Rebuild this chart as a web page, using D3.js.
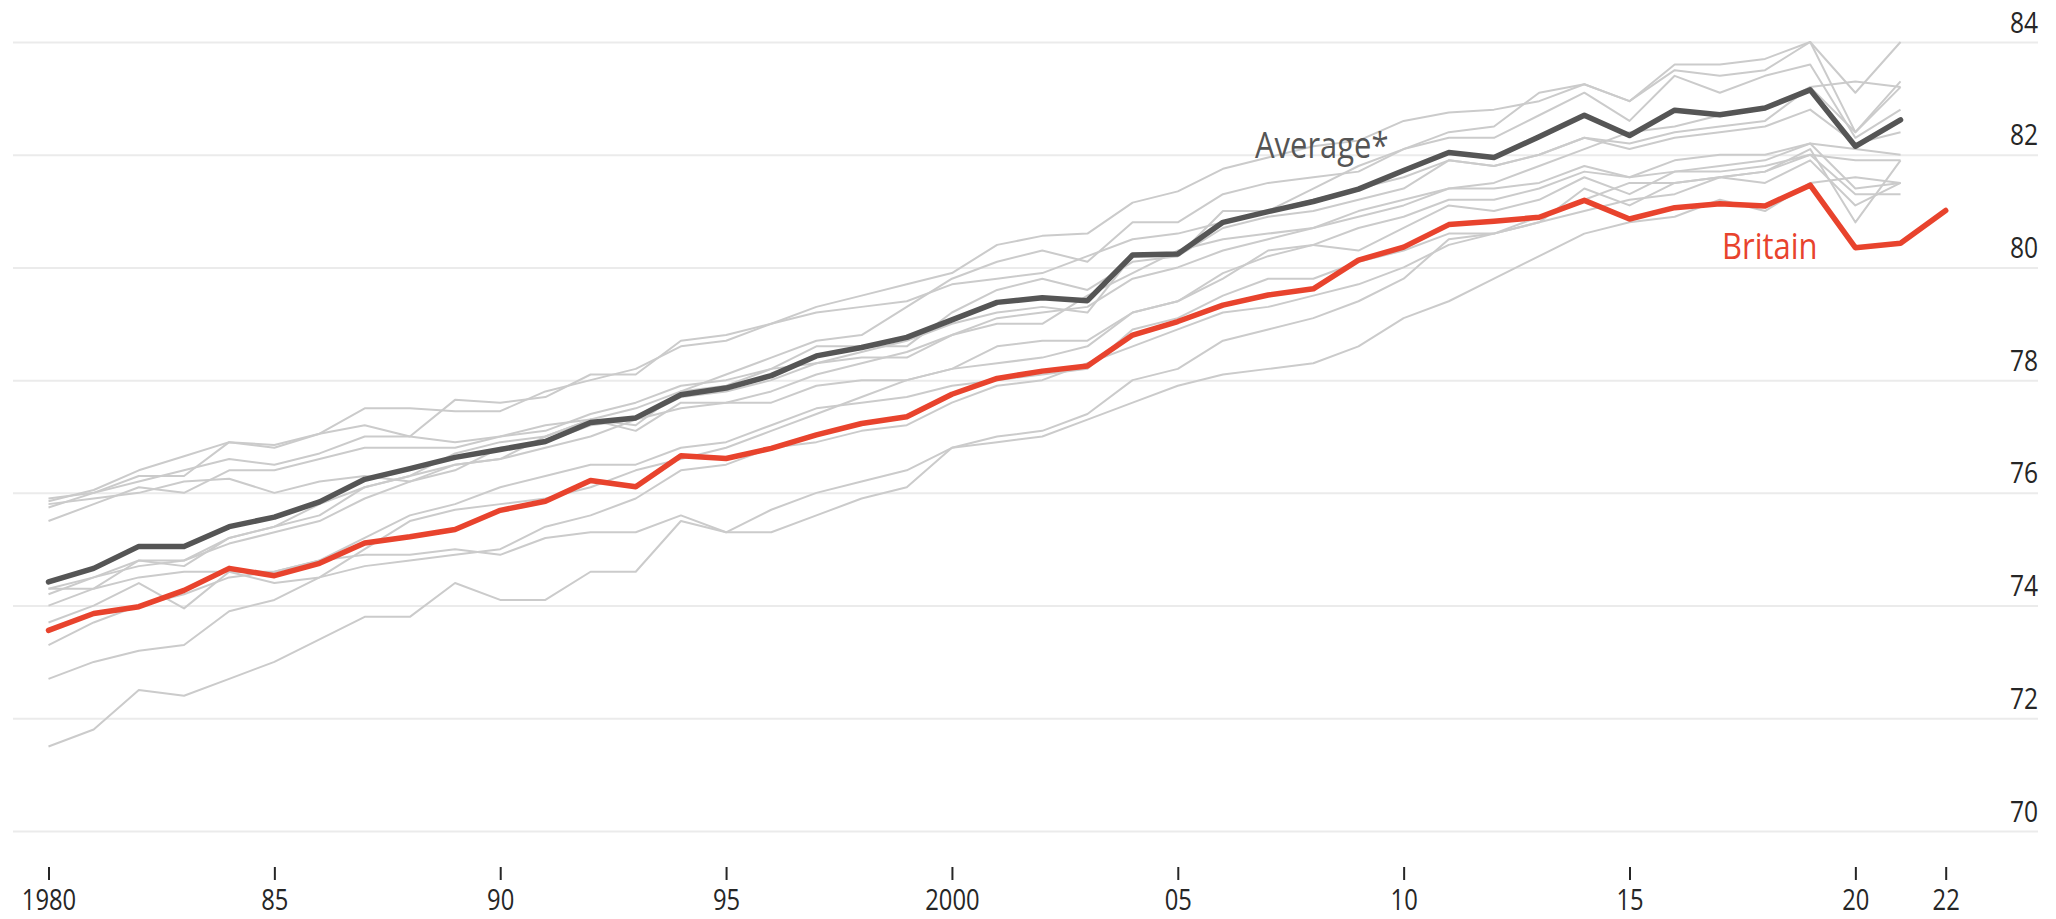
<!DOCTYPE html>
<html>
<head>
<meta charset="utf-8">
<script src="https://cdn.jsdelivr.net/npm/d3@7"></script>
<style>
  html, body { margin: 0; padding: 0; background: #fff; }
  svg { display: block; }
  text { font-family: "Open Sans", "Noto Sans", sans-serif; }
</style>
</head>
<body>
<div id="chart"></div>
<script>
// years on the x axis
var years = d3.range(1980, 2023);

// thick lines
var britain = [73.56, 73.86, 73.98, 74.27, 74.66, 74.53, 74.75, 75.11, 75.22, 75.35,
               75.69, 75.85, 76.22, 76.11, 76.66, 76.61, 76.79, 77.03, 77.23, 77.35,
               77.75, 78.03, 78.16, 78.25, 78.80, 79.04, 79.33, 79.51, 79.62, 80.13,
               80.36, 80.76, 80.82, 80.89, 81.19, 80.86, 81.06, 81.13, 81.09, 81.46,
               80.35, 80.43, 81.01];
var average = [74.42, 74.66, 75.05, 75.05, 75.40, 75.57, 75.84, 76.24, 76.43, 76.63,
               76.77, 76.91, 77.25, 77.33, 77.74, 77.86, 78.08, 78.43, 78.58, 78.76,
               79.07, 79.38, 79.46, 79.41, 80.22, 80.24, 80.80, 80.99, 81.17, 81.39,
               81.72, 82.04, 81.95, 82.32, 82.70, 82.34, 82.79, 82.71, 82.83, 83.15,
               82.15, 82.62];

// thin grey lines, 1980-2021
var greyA = [75.74, 76.0, 76.3, 76.3, 76.9, 76.85, 77.05, 77.5, 77.5, 77.45, 77.45, 77.8, 78.0, 78.2, 78.6, 78.7, 79.0, 79.3, 79.5, 79.7, 79.9, 80.4, 80.56, 80.6, 81.15, 81.35, 81.75, 81.95, 82.15, 82.25, 82.6, 82.75, 82.8, 82.95, 83.25, 82.95, 83.6, 83.6, 83.7, 84.0, 83.1, 84.0];
var greyB = [75.5, 75.8, 76.1, 76.0, 76.4, 76.4, 76.6, 76.8, 76.8, 76.8, 77.0, 77.1, 77.4, 77.6, 77.9, 78.0, 78.2, 78.6, 78.6, 78.6, 79.2, 79.6, 79.8, 79.6, 80.1, 80.2, 81.0, 81.0, 81.4, 81.8, 82.1, 82.4, 82.5, 83.1, 83.25, 82.95, 83.5, 83.4, 83.5, 84.0, 82.4, 83.3];
var greyC = [74.0, 74.3, 74.8, 74.7, 75.2, 75.4, 75.8, 76.1, 76.3, 76.7, 76.9, 77.0, 77.3, 77.5, 77.8, 78.1, 78.4, 78.7, 78.8, 79.3, 79.8, 80.1, 80.3, 80.1, 80.8, 80.8, 81.3, 81.5, 81.6, 81.7, 82.1, 82.3, 82.3, 82.7, 83.1, 82.6, 83.4, 83.1, 83.4, 83.6, 82.3, 82.8];
var greyD = [75.85, 76.05, 76.4, 76.65, 76.9, 76.8, 77.05, 77.2, 77.0, 77.65, 77.6, 77.7, 78.1, 78.1, 78.7, 78.8, 79.0, 79.2, 79.3, 79.4, 79.7, 79.8, 79.9, 80.2, 80.5, 80.6, 80.8, 81.0, 81.2, 81.4, 81.6, 81.9, 81.8, 82.0, 82.3, 82.2, 82.4, 82.5, 82.6, 83.2, 82.4, 83.2];
var greyE = [75.8, 75.9, 76.0, 76.2, 76.25, 76.0, 76.2, 76.3, 76.2, 76.5, 76.6, 77.0, 77.3, 77.2, 77.8, 77.9, 78.2, 78.3, 78.4, 78.4, 78.8, 79.0, 79.0, 79.5, 79.9, 80.3, 80.5, 80.6, 80.7, 81.0, 81.2, 81.4, 81.5, 81.8, 82.1, 82.4, 82.5, 82.7, 82.8, 83.2, 83.3, 83.2];
var greyF = [75.9, 76.0, 76.2, 76.4, 76.6, 76.5, 76.7, 77.0, 77.0, 76.9, 77.0, 77.2, 77.3, 77.1, 77.6, 77.6, 77.6, 77.9, 78.0, 78.0, 78.2, 78.3, 78.4, 78.6, 79.2, 79.4, 79.8, 80.3, 80.4, 80.7, 80.9, 81.2, 81.2, 81.4, 81.7, 81.6, 81.7, 81.8, 81.9, 82.2, 81.4, 81.5];
var greyG = [74.3, 74.5, 74.8, 74.8, 75.1, 75.3, 75.5, 75.9, 76.2, 76.4, 76.8, 76.9, 77.2, 77.3, 77.7, 77.8, 78.0, 78.3, 78.5, 78.7, 79.0, 79.2, 79.3, 79.2, 80.2, 80.2, 80.7, 80.9, 81.0, 81.2, 81.4, 81.9, 81.8, 82.0, 82.3, 82.1, 82.3, 82.4, 82.5, 82.8, 82.2, 82.4];
var greyH = [73.3, 73.7, 74.0, 74.2, 74.5, 74.6, 74.8, 75.2, 75.6, 75.8, 76.1, 76.3, 76.5, 76.5, 76.8, 76.9, 77.2, 77.5, 77.6, 77.7, 77.9, 78.0, 78.1, 78.2, 78.9, 79.1, 79.5, 79.8, 79.8, 80.1, 80.3, 80.6, 80.6, 80.8, 81.4, 81.1, 81.5, 81.6, 81.7, 82.1, 80.8, 81.9];
var greyI = [73.7, 74.0, 74.4, 73.95, 74.6, 74.4, 74.5, 74.7, 74.8, 74.9, 75.0, 75.4, 75.6, 75.9, 76.4, 76.5, 76.8, 76.9, 77.1, 77.2, 77.6, 77.9, 78.0, 78.3, 78.6, 78.9, 79.2, 79.3, 79.5, 79.7, 80.0, 80.4, 80.6, 80.9, 81.2, 81.5, 81.5, 81.6, 81.7, 82.0, 81.9, 81.9];
var greyJ = [72.7, 73.0, 73.2, 73.3, 73.9, 74.1, 74.5, 75.0, 75.5, 75.7, 75.8, 75.9, 76.1, 76.4, 76.6, 76.8, 77.1, 77.4, 77.7, 78.0, 78.2, 78.6, 78.7, 78.7, 79.2, 79.4, 79.9, 80.2, 80.4, 80.3, 80.7, 81.1, 81.0, 81.2, 81.6, 81.3, 81.7, 81.7, 81.8, 82.0, 81.3, 81.3];
var greyK = [74.3, 74.3, 74.5, 74.6, 74.6, 74.6, 74.8, 74.9, 74.9, 75.0, 74.9, 75.2, 75.3, 75.3, 75.6, 75.3, 75.7, 76.0, 76.2, 76.4, 76.8, 76.9, 77.0, 77.3, 77.6, 77.9, 78.1, 78.2, 78.3, 78.6, 79.1, 79.4, 79.8, 80.2, 80.6, 80.8, 80.9, 81.2, 81.0, 81.5, 81.6, 81.5];
var greyL = [71.5, 71.8, 72.5, 72.4, 72.7, 73.0, 73.4, 73.8, 73.8, 74.4, 74.1, 74.1, 74.6, 74.6, 75.5, 75.3, 75.3, 75.6, 75.9, 76.1, 76.8, 77.0, 77.1, 77.4, 78.0, 78.2, 78.7, 78.9, 79.1, 79.4, 79.8, 80.5, 80.6, 80.8, 81.0, 81.2, 81.3, 81.6, 81.5, 81.9, 81.1, 81.5];
var greyM = [74.2, 74.5, 74.7, 74.8, 75.2, 75.4, 75.6, 76.1, 76.3, 76.5, 76.6, 76.8, 77.0, 77.3, 77.5, 77.6, 77.8, 78.1, 78.3, 78.5, 78.8, 79.1, 79.2, 79.3, 79.8, 80.0, 80.3, 80.5, 80.7, 80.9, 81.1, 81.4, 81.4, 81.5, 81.8, 81.6, 81.9, 82.0, 82.0, 82.2, 82.1, 82.0];
var greySeries = [greyA, greyB, greyC, greyD, greyE, greyF, greyG, greyH, greyI, greyJ, greyK, greyL, greyM];

// axis ticks
var yTicks = [70, 72, 74, 76, 78, 80, 82, 84];
var xTicks = [1980, 1985, 1990, 1995, 2000, 2005, 2010, 2015, 2020, 2022];
var xTickLabels = ["1980", "85", "90", "95", "2000", "05", "10", "15", "20", "22"];

var width = 2056, height = 919;
var squeeze = 0.82;  // narrow the glyphs, the original face is condensed

var svg = d3.select("#chart").append("svg")
    .attr("width", width)
    .attr("height", height);

var x = d3.scaleLinear().domain([1980, 2022]).range([48.5, 1945.7]);
var y = d3.scaleLinear().domain([70, 84]).range([831, 42]);

// gridlines + right-hand labels
var yAxis = svg.append("g")
    .attr("transform", "translate(2038,0)")
    .call(d3.axisRight(y).tickValues(yTicks).tickSize(-2025).tickFormat(d3.format("d")));
yAxis.select(".domain").remove();
yAxis.selectAll("line")
    .attr("stroke", "#ebebeb")
    .attr("stroke-width", 2);
yAxis.selectAll("text")
    .attr("x", 0)
    .attr("y", -10)
    .attr("dy", null)
    .attr("text-anchor", "end")
    .attr("transform", "scale(" + squeeze + ",1)")
    .style("font-size", "30px")
    .attr("fill", "#262626");

// x axis
var xAxis = svg.append("g")
    .attr("transform", "translate(0,867)")
    .call(d3.axisBottom(x).tickValues(xTicks).tickSize(13).tickPadding(9)
        .tickFormat(function(d, i) { return xTickLabels[i]; }));
xAxis.select(".domain").remove();
xAxis.selectAll("line")
    .attr("stroke", "#262626")
    .attr("stroke-width", 2);
xAxis.selectAll("text")
    .attr("transform", "scale(" + squeeze + ",1)")
    .style("font-size", "29px")
    .attr("fill", "#262626");

var line = d3.line()
    .x(function(d, i) { return x(years[i]); })
    .y(function(d) { return y(d); });

// grey country lines
svg.append("g").selectAll("path")
    .data(greySeries)
    .enter()
    .append("path")
    .attr("d", line)
    .attr("fill", "none")
    .attr("stroke", "#cbcbcb")
    .attr("stroke-width", 2)
    .attr("stroke-linejoin", "round");

// average
svg.append("path")
    .datum(average)
    .attr("d", line)
    .attr("fill", "none")
    .attr("stroke", "#555555")
    .attr("stroke-width", 5.5)
    .attr("stroke-linejoin", "round")
    .attr("stroke-linecap", "round");

// britain
svg.append("path")
    .datum(britain)
    .attr("d", line)
    .attr("fill", "none")
    .attr("stroke", "#e8432d")
    .attr("stroke-width", 5.5)
    .attr("stroke-linejoin", "round")
    .attr("stroke-linecap", "round");

// line labels
svg.append("text")
    .attr("transform", "translate(1255,158) scale(0.86,1)")
    .style("font-size", "36px")
    .attr("fill", "#555555")
    .text("Average*");

svg.append("text")
    .attr("transform", "translate(1722,259) scale(0.86,1)")
    .style("font-size", "36px")
    .attr("fill", "#e8432d")
    .text("Britain");
</script>
</body>
</html>
